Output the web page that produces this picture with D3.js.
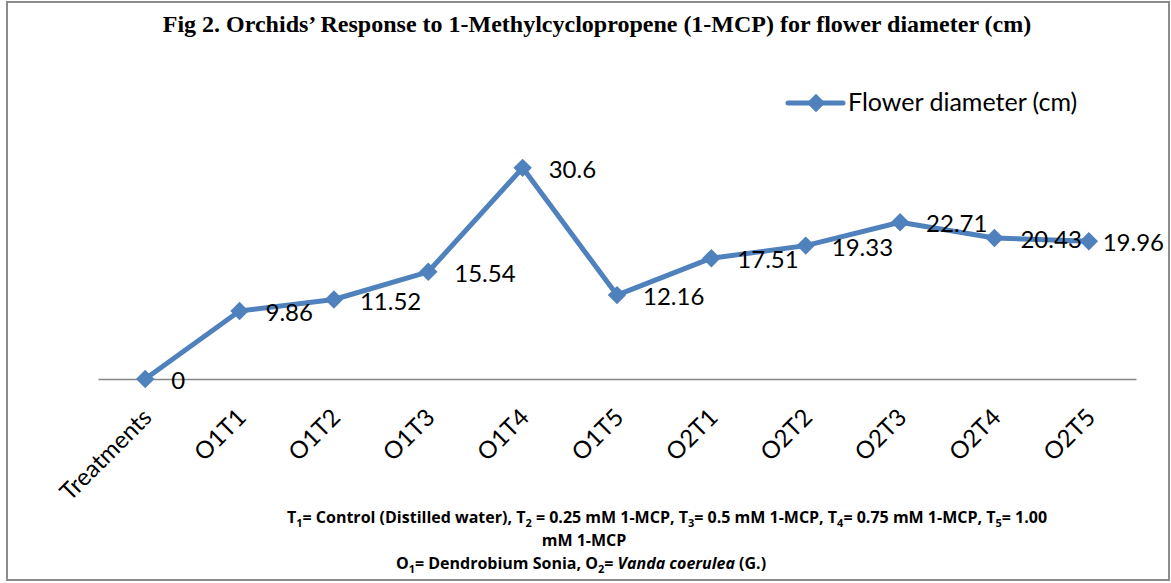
<!DOCTYPE html>
<html>
<head>
<meta charset="utf-8">
<script src="https://cdn.jsdelivr.net/npm/d3@7"></script>
<style>
  html, body { margin: 0; padding: 0; background: #fff; }
  svg { display: block; }
</style>
</head>
<body>
<script>
const categories = ["Treatments", "O1T1", "O1T2", "O1T3", "O1T4", "O1T5", "O2T1", "O2T2", "O2T3", "O2T4", "O2T5"];
const flowerDiameter = [0, 9.86, 11.52, 15.54, 30.6, 12.16, 17.51, 19.33, 22.71, 20.43, 19.96];
const seriesName = "Flower diameter (cm)";
const titleText = "Fig 2. Orchids’ Response to 1-Methylcyclopropene (1-MCP) for flower diameter (cm)";

const W = 1171, H = 583;
const color = "#4F81BD";
const sans = "Lato, 'Open Sans', sans-serif";

const svg = d3.select("body").append("svg").attr("width", W).attr("height", H);
svg.append("rect").attr("width", W).attr("height", H).attr("fill", "#fff");

// frame
svg.append("rect").attr("x", 7).attr("y", 2).attr("width", 1162).attr("height", 578)
  .attr("fill", "none").attr("stroke", "#8c8c8c").attr("stroke-width", 2);

// title
svg.append("text").attr("x", 597).attr("y", 32).attr("text-anchor", "middle")
  .attr("font-family", "'Liberation Serif', 'Times New Roman', serif")
  .attr("font-weight", "bold").attr("font-size", 24).attr("fill", "#000")
  .text(titleText);

const x = d3.scaleBand().domain(categories).range([98, 1136]);
const y = d3.scaleLinear().domain([0, 35]).range([379, 379 - 35 * 6.9]);
const cx = d => x(d) + x.bandwidth() / 2;

// category axis line
const axis = svg.append("g").attr("transform", `translate(0,${y(0)})`)
  .call(d3.axisBottom(x).tickSize(0).tickFormat(""));
axis.select(".domain").attr("stroke", "#868686").attr("stroke-width", 1.5);

// tick labels
svg.append("g").selectAll("text").data(categories).join("text")
  .attr("transform", d => `translate(${cx(d) + 8},${y(0) + 40}) rotate(-45)`)
  .attr("text-anchor", "end")
  .attr("font-family", sans).attr("font-size", 24).attr("fill", "#000")
  .text(d => d);

// line
const line = d3.line().x((d, i) => cx(categories[i])).y(d => y(d));
svg.append("path").datum(flowerDiameter).attr("d", line)
  .attr("fill", "none").attr("stroke", color).attr("stroke-width", 5)
  .attr("stroke-linejoin", "round");

svg.append("g").selectAll("path").data(flowerDiameter).join("path")
  .attr("transform", (d, i) => `translate(${cx(categories[i])},${y(d)}) rotate(45)`)
  .attr("d", d3.symbol().type(d3.symbolSquare).size(170))
  .attr("fill", color);

// data labels
svg.append("g").selectAll("text").data(flowerDiameter).join("text")
  .attr("y", d => y(d) + 10)
  .attr("font-family", sans).attr("font-size", 24).attr("fill", "#000")
  .text(d => String(d))
  .attr("x", function (d, i) {
    const w = this.getComputedTextLength();
    return Math.min(cx(categories[i]) + 26, 1164 - w);
  });

// legend
const lg = svg.append("g");
lg.append("line").attr("x1", 788).attr("x2", 843).attr("y1", 103).attr("y2", 103)
  .attr("stroke", color).attr("stroke-width", 5).attr("stroke-linecap", "round");
lg.append("path").attr("transform", "translate(816,103) rotate(45)")
  .attr("d", d3.symbol().type(d3.symbolSquare).size(170)).attr("fill", color);
lg.append("text").attr("x", 848).attr("y", 111)
  .attr("font-family", sans).attr("font-size", 25).attr("fill", "#000").text(seriesName);

// footnote
const foot = svg.append("g").attr("font-family", "'Open Sans', Lato, sans-serif")
  .attr("font-weight", "bold").attr("font-size", 16).attr("fill", "#000").attr("text-anchor", "middle");

function richLine(sel, parts) {
  let lowered = false;
  parts.forEach(([t, kind]) => {
    const s = sel.append("tspan").text(t);
    if (kind === "sub") { s.attr("font-size", 11).attr("dy", 4); lowered = true; }
    else {
      if (lowered) { s.attr("dy", -4); lowered = false; }
      if (kind === "it") s.attr("font-style", "italic");
    }
  });
}
richLine(foot.append("text").attr("x", 667).attr("y", 523), [
  ["T"], ["1", "sub"], ["= Control (Distilled water), T"], ["2", "sub"], [" = 0.25 mM 1-MCP, T"],
  ["3", "sub"], ["= 0.5 mM 1-MCP, T"], ["4", "sub"], ["= 0.75 mM 1-MCP, T"], ["5", "sub"], ["= 1.00"]
]);
foot.append("text").attr("x", 584).attr("y", 546).text("mM 1-MCP");
richLine(foot.append("text").attr("x", 581).attr("y", 569), [
  ["O"], ["1", "sub"], ["= Dendrobium Sonia, O"], ["2", "sub"], ["= "], ["Vanda coerulea", "it"], [" (G.)"]
]);
</script>
</body>
</html>
